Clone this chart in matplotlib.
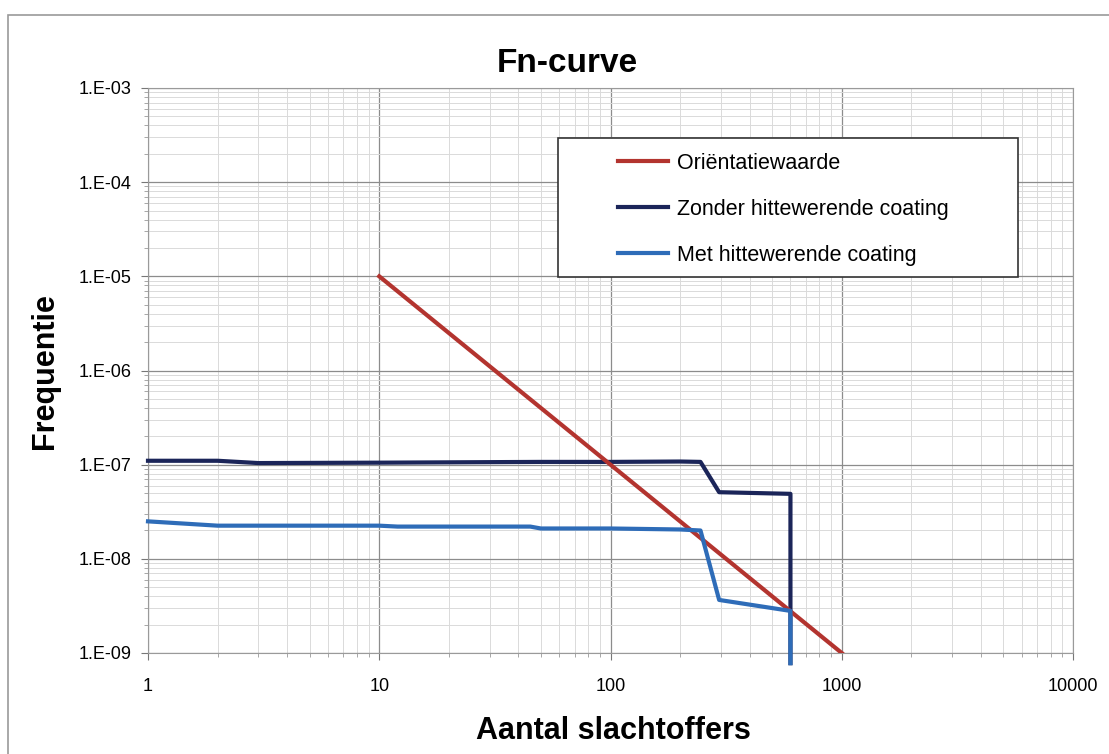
import numpy as np
import matplotlib
matplotlib.use("Agg")
import matplotlib.pyplot as plt
from matplotlib.ticker import FuncFormatter, LogLocator, NullFormatter
from matplotlib.patches import Rectangle

plt.rcParams['font.family'] = ['Liberation Sans', 'DejaVu Sans']

# data
orient_n = [10, 1000]
orient_f = [1e-5, 1e-9]

zonder_n = [1, 2, 3, 10, 50, 100, 200, 245, 295, 600, 600]
zonder_f = [1.1e-7, 1.1e-7, 1.04e-7, 1.05e-7, 1.07e-7, 1.07e-7, 1.08e-7, 1.07e-7, 5.1e-8, 4.9e-8, 7.8e-10]

met_n = [1, 2, 10, 12, 45, 50, 100, 200, 245, 295, 600, 600]
met_f = [2.5e-8, 2.25e-8, 2.25e-8, 2.2e-8, 2.2e-8, 2.1e-8, 2.1e-8, 2.05e-8, 2.0e-8, 3.66e-9, 2.8e-9, 7.8e-10]

labels = ["Oriëntatiewaarde", "Zonder hittewerende coating", "Met hittewerende coating"]
colors = ["#b3342f", "#1b2559", "#2e6cb8"]

W, H = 1109, 754
fig = plt.figure(figsize=(W / 100, H / 100), dpi=100)
ax = fig.add_axes([148 / W, 1 - 653 / H, 925 / W, 565 / H])

ax.plot(orient_n, orient_f, color=colors[0], lw=3, zorder=4, label=labels[0])
ax.plot(zonder_n, zonder_f, color=colors[1], lw=3, zorder=3, label=labels[1], clip_on=False)
ax.plot(met_n, met_f, color=colors[2], lw=3, zorder=5, label=labels[2], clip_on=False)

ax.set_xscale('log')
ax.set_yscale('log')
ax.set_xlim(1, 10000)
ax.set_ylim(1e-9, 1e-3)

ax.xaxis.set_major_formatter(FuncFormatter(lambda v, p: "%d" % round(v)))
ax.yaxis.set_major_formatter(FuncFormatter(lambda v, p: "1.E-%02d" % round(-np.log10(v))))
ax.xaxis.set_minor_locator(LogLocator(base=10, subs=np.arange(2, 10), numticks=20))
ax.yaxis.set_minor_locator(LogLocator(base=10, subs=np.arange(2, 10), numticks=20))
ax.xaxis.set_minor_formatter(NullFormatter())
ax.yaxis.set_minor_formatter(NullFormatter())

ax.grid(True, which='major', color='#8c8c8c', lw=0.9)
ax.grid(True, which='minor', color='#dadada', lw=0.7)
ax.set_axisbelow(True)
for s in ax.spines.values():
    s.set_color('#9a9a9a')
ax.tick_params(which='major', direction='out', length=5, color='#777777', labelsize=13, pad=7)
ax.tick_params(which='minor', direction='out', length=3, color='#999999')
ax.tick_params(axis='x', pad=13)

# title and axis titles placed like the Excel chart
fig.text(567 / W, 1 - 72 / H, "Fn-curve", fontsize=24, fontweight='bold',
         ha='center', va='baseline')
fig.text(613 / W, 1 - 739 / H, "Aantal slachtoffers", fontsize=22, fontweight='bold',
         ha='center', va='baseline')
fig.text(45 / W, 1 - 371 / H, "Frequentie", fontsize=22, fontweight='bold',
         ha='center', va='center', rotation=90)

# legend box drawn by hand (Excel style, text pushed to the right)
ax.add_patch(Rectangle(((558 - 148) / 925, (653 - 277) / 565), 460 / 925, 139 / 565,
                       transform=ax.transAxes, facecolor='white', edgecolor='#333333',
                       lw=1.2, zorder=6))
ax.legend(loc='upper left', bbox_to_anchor=((618 - 148) / 925, (653 - 153) / 565),
          frameon=False, fontsize=15.5, handlelength=2.3, handletextpad=0.45,
          labelspacing=1.15, borderaxespad=0, borderpad=0).set_zorder(7)

# outer frame of the chart area
fig.add_artist(Rectangle((8 / W, -0.1), 1.2, 1 - 15 / H + 0.1, transform=fig.transFigure,
                         facecolor='none', edgecolor='#9a9a9a', lw=1.2, clip_on=False))

fig.savefig("out.png", dpi=100)
